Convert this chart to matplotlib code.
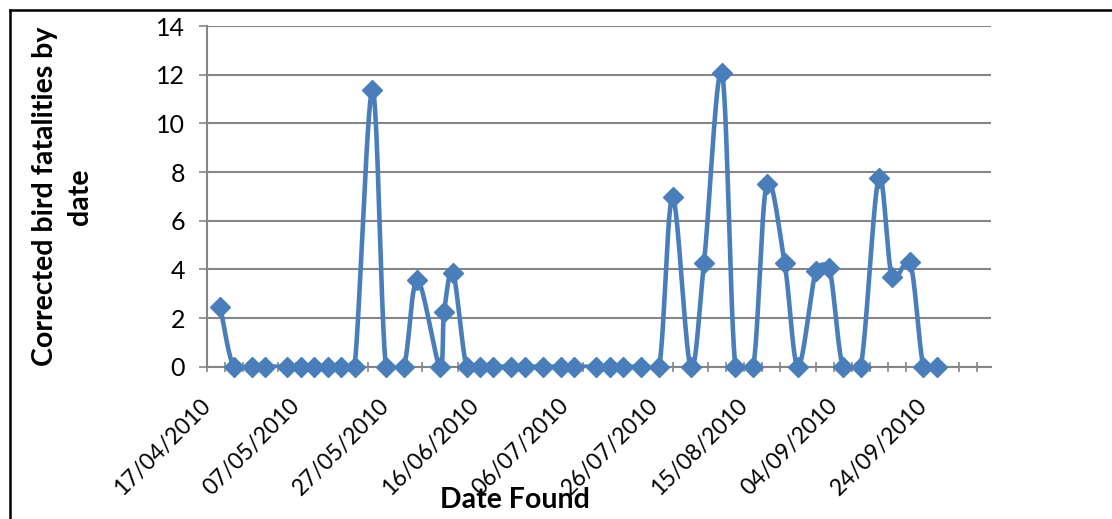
"""Corrected bird fatalities by date (Excel-style smoothed line chart)."""
import matplotlib
matplotlib.use("Agg")
import matplotlib.pyplot as plt
import matplotlib.dates as mdates
from matplotlib.lines import Line2D
import numpy as np
import pandas as pd

plt.rcParams["font.family"] = ["Lato", "DejaVu Sans"]

dates_found = [
    "20/04/2010", "23/04/2010", "27/04/2010", "30/04/2010", "05/05/2010",
    "08/05/2010", "11/05/2010", "14/05/2010", "17/05/2010", "20/05/2010",
    "24/05/2010", "27/05/2010", "31/05/2010", "03/06/2010", "08/06/2010",
    "09/06/2010", "11/06/2010", "14/06/2010", "17/06/2010", "20/06/2010",
    "24/06/2010", "27/06/2010", "01/07/2010", "05/07/2010", "08/07/2010",
    "13/07/2010", "16/07/2010", "19/07/2010", "23/07/2010", "27/07/2010",
    "30/07/2010", "03/08/2010", "06/08/2010", "10/08/2010", "13/08/2010",
    "17/08/2010", "20/08/2010", "24/08/2010", "27/08/2010", "31/08/2010",
    "03/09/2010", "06/09/2010", "10/09/2010", "14/09/2010", "17/09/2010",
    "21/09/2010", "24/09/2010", "27/09/2010",
]
fatalities = [
    2.47, 0, 0, 0, 0,
    0, 0, 0, 0, 0,
    11.37, 0, 0, 3.56, 0,
    2.26, 3.86, 0, 0, 0,
    0, 0, 0, 0, 0,
    0, 0, 0, 0, 0,
    6.96, 0, 4.25, 12.08, 0,
    0, 7.50, 4.25, 0, 3.95,
    4.04, 0, 0, 7.74, 3.67,
    4.29, 0, 0,
]
axis_start = "17/04/2010"
axis_days = 175
y_ticks = [0, 2, 4, 6, 8, 10, 12, 14]

BLUE = "#4A7EBB"
GRID = "#868686"

x = mdates.date2num(pd.to_datetime(dates_found, dayfirst=True))
y = np.array(fatalities, dtype=float)
x0 = mdates.date2num(pd.to_datetime(axis_start, dayfirst=True))


def _ctrl_factor(d_chord, d_seg):
    # Excel caps the tangent handle at half the segment length
    if d_chord == 0:
        return 0.0
    return 1 / 6 if d_chord / 6 < d_seg / 2 else d_seg / (2 * d_chord)


def excel_smooth(ax, xs, ys, n=30):
    # Bezier "smoothed line" built in screen space, then mapped back to data
    pts = ax.transData.transform(np.column_stack([xs, ys]))
    out = [pts[:1]]
    t = np.linspace(0, 1, n)[1:, None]
    for i in range(len(pts) - 1):
        p0 = pts[i - 1] if i > 0 else pts[i]
        p1, p2 = pts[i], pts[i + 1]
        p3 = pts[i + 2] if i + 2 < len(pts) else pts[i + 1]
        d12 = np.hypot(*(p2 - p1))
        c1 = p1 + (p2 - p0) * _ctrl_factor(np.hypot(*(p2 - p0)), d12)
        c2 = p2 - (p3 - p1) * _ctrl_factor(np.hypot(*(p3 - p1)), d12)
        seg = ((1 - t) ** 3) * p1 + 3 * ((1 - t) ** 2) * t * c1 \
            + 3 * (1 - t) * t ** 2 * c2 + t ** 3 * p2
        out.append(seg)
    out = ax.transData.inverted().transform(np.vstack(out))
    return out[:, 0], out[:, 1]


fig = plt.figure(figsize=(11.12, 5.19), dpi=100)
ax = fig.add_axes([0.1859, 0.2935, 0.705, 0.6564])

ax.set_xlim(x0, x0 + axis_days)
ax.set_ylim(0, 14)

sx, sy = excel_smooth(ax, x, y)
ax.plot(sx, sy, color=BLUE, linewidth=3.3, solid_capstyle="round", zorder=3)
ax.plot(x, y, linestyle="none", marker="D", markersize=10.5,
        color=BLUE, zorder=4, clip_on=False)

ax.set_yticks(y_ticks)
ax.yaxis.grid(True, color=GRID, linewidth=1.5)
ax.set_axisbelow(True)

major = [x0 + d for d in range(0, axis_days, 20)]
minor = [x0 + d for d in range(0, axis_days, 4)]
ax.set_xticks(major)
ax.set_xticks(minor, minor=True)
ax.xaxis.set_major_formatter(mdates.DateFormatter("%d/%m/%Y"))

for side in ("top", "right"):
    ax.spines[side].set_visible(False)
for side in ("left", "bottom"):
    ax.spines[side].set_color(GRID)
    ax.spines[side].set_linewidth(1.5)

ax.tick_params(axis="y", direction="out", length=5.5, width=1.2,
               color=GRID, labelsize=18, pad=10)
ax.tick_params(axis="x", which="both", direction="inout", length=7,
               width=1.2, color=GRID, labelsize=16.5, pad=22)
for lbl in ax.get_xticklabels():
    lbl.set_rotation(45)
    lbl.set_ha("right")
    lbl.set_va("center")
    lbl.set_rotation_mode("anchor")

ax.set_ylabel("Corrected bird fatalities by\ndate", fontsize=20.5,
              fontweight="bold", linespacing=1.45)
ax.yaxis.set_label_coords(-0.145, 0.5)
fig.text(515 / 1112, 1 - 500 / 519, "Date Found", fontsize=20.5,
         fontweight="bold", ha="center", va="center")

# outer chart frame (only top and left edges fall inside the picture)
fig.add_artist(Line2D([10 / 1112, 1], [1 - 10 / 519, 1 - 10 / 519],
                      transform=fig.transFigure, color="black", linewidth=1.8))
fig.add_artist(Line2D([10 / 1112, 10 / 1112], [0, 1 - 10 / 519],
                      transform=fig.transFigure, color="black", linewidth=1.8))

fig.savefig("out.png", dpi=100)
plt.close(fig)
print("Saved out.png")
